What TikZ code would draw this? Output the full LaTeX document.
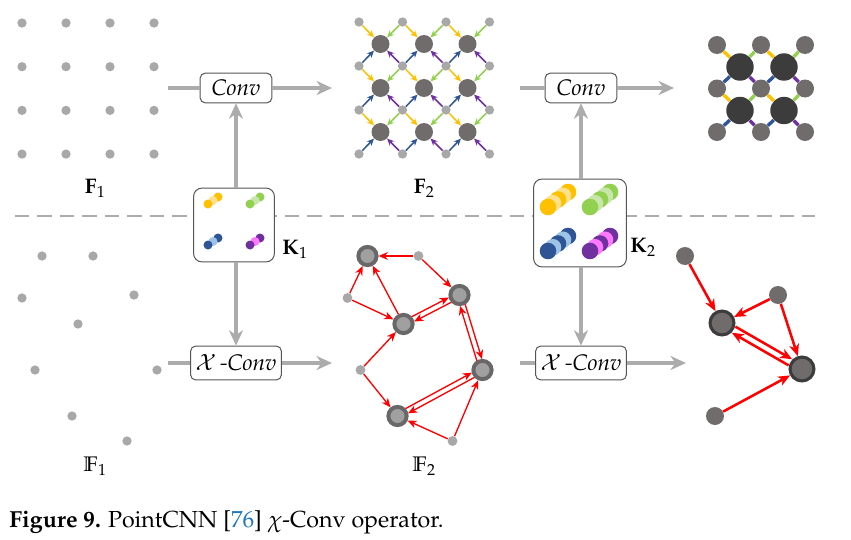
\documentclass[tikz,border=0pt]{standalone}
\usepackage[T1]{fontenc}
\usepackage{mathpazo}
\usepackage{amsmath,amssymb}
\usepackage{xcolor}
\usetikzlibrary{arrows.meta,calc}

\definecolor{dotgray}{RGB}{168,168,168}
\definecolor{midgray}{RGB}{112,108,108}
\definecolor{deepgray}{RGB}{60,60,60}
\definecolor{flowgray}{RGB}{172,172,172}
\definecolor{boxgray}{RGB}{85,85,85}
\definecolor{ringgray}{RGB}{105,103,103}
\definecolor{repgray}{RGB}{160,160,160}
\definecolor{kyellow}{RGB}{255,192,0}
\definecolor{kyellowl}{RGB}{255,224,140}
\definecolor{kgreen}{RGB}{146,208,80}
\definecolor{kgreenl}{RGB}{200,230,170}
\definecolor{kblue}{RGB}{47,85,151}
\definecolor{kbluel}{RGB}{157,195,230}
\definecolor{kpurple}{RGB}{112,48,160}
\definecolor{kpurplel}{RGB}{255,120,255}
\definecolor{citeblue}{RGB}{30,120,190}

\begin{document}
\begin{tikzpicture}[x=0.025cm,y=-0.025cm,font=\fontsize{15}{18}\selectfont]
      \tikzstyle{grid dot}=[circle,fill=dotgray,inner sep=0pt,minimum size=6.6pt]
      \tikzstyle{center dot}=[circle,fill=midgray,inner sep=0pt,minimum size=12.8pt]
      \tikzstyle{out dot}=[circle,fill=midgray,inner sep=0pt,minimum size=12.8pt]
      \tikzstyle{out center}=[circle,fill=deepgray,inner sep=0pt,minimum size=19.5pt]
      \tikzstyle{rep dot}=[circle,fill=repgray,draw=ringgray,line width=2.8pt,inner sep=0pt,minimum size=13pt]
      \tikzstyle{last dot}=[circle,fill=midgray,draw=deepgray,line width=2.2pt,inner sep=0pt,minimum size=17pt]
      \tikzstyle{op box}=[draw=boxgray,fill=white,rounded corners=3.5pt,line width=0.7pt,minimum height=21pt,minimum width=51pt,inner sep=0pt,font=\fontsize{16}{18}\selectfont]
      \tikzstyle{kernel box}=[draw=boxgray,fill=white,rounded corners=6pt,line width=0.7pt,inner sep=0pt]
      \tikzstyle{flow}=[draw=flowgray,line width=2.4pt]
      \tikzstyle{flow arrow}=[flow,-{Stealth[length=11pt,width=10pt,inset=3.5pt]}]
      \tikzstyle{conv arrow}=[line width=1.1pt,-{Stealth[length=5pt,width=4.5pt]}]
      \tikzstyle{conv link}=[line width=2.4pt]
      \tikzstyle{red edge}=[red,line width=0.95pt,-{Stealth[length=6.5pt,width=5.5pt,inset=2pt]}]
      \tikzstyle{red bold}=[red,line width=1.8pt,-{Stealth[length=8.5pt,width=7pt,inset=2.5pt]}]

      \useasboundingbox (0,0) rectangle (851,540);

      % split between grid part and point cloud part
      \draw[flowgray,line width=2pt,dash pattern=on 10pt off 6pt] (15,216) -- (815,216);

      % F1: regular grid
      \foreach \i in {1,...,4}
        \foreach \j in {1,...,4}
          \node[grid dot] (F1-\i-\j) at (22+44*\i-44,23+43.7*\j-43.7) {};
      \node (F1) at (95,188) {$\mathbf{F}_1$};

      % F2: grid with center points
      \foreach \i in {1,...,4}
        \foreach \j in {1,...,4}
          \node[grid dot] (F2-\i-\j) at (359+43.5*\i-43.5,22+44*\j-44) {};
      \foreach \i in {1,...,3}
        \foreach \j in {1,...,3}
          \node[center dot] (C2-\i-\j) at (380.5+43.5*\i-43.5,44+44*\j-44) {};
      \node (F2) at (424,188) {$\mathbf{F}_2$};

      % F3: output of second conv
      \foreach \i in {1,...,3}
        \foreach \j in {1,...,3}
          \node[out dot] (F3-\i-\j) at (717+44*\i-44,45+43.5*\j-43.5) {};
      \foreach \i in {1,2}
        \foreach \j in {1,2}
          \node[out center] (C3-\i-\j) at (740+44*\i-44,67+43.5*\j-43.5) {};

      % Connections: F2 grid to centers
      \foreach \i [evaluate=\i as \k using int(\i+1)] in {1,2,3} {
        \foreach \j [evaluate=\j as \l using int(\j+1)] in {1,2,3} {
          \draw[conv arrow,kyellow] (F2-\i-\j) -- (C2-\i-\j);
          \draw[conv arrow,kgreen] (F2-\k-\j) -- (C2-\i-\j);
          \draw[conv arrow,kblue] (F2-\i-\l) -- (C2-\i-\j);
          \draw[conv arrow,kpurple] (F2-\k-\l) -- (C2-\i-\j);
        }
      }

      % Connections: F3 grid to centers
      \foreach \i [evaluate=\i as \k using int(\i+1)] in {1,2} {
        \foreach \j [evaluate=\j as \l using int(\j+1)] in {1,2} {
          \draw[conv link,kyellow] (F3-\i-\j) -- (C3-\i-\j);
          \draw[conv link,kgreen] (F3-\k-\j) -- (C3-\i-\j);
          \draw[conv link,kblue] (F3-\i-\l) -- (C3-\i-\j);
          \draw[conv link,kpurple] (F3-\k-\l) -- (C3-\i-\j);
        }
      }

      % operators
      \node[op box] (conv1) at (236,88) {\textit{Conv}};
      \node[op box] (conv2) at (581,88) {\textit{Conv}};
      \node[op box,minimum width=64.5pt,minimum height=24pt] (xconv1) at (236,363) {$\mathcal{X}$\,\textit{-Conv}};
      \node[op box,minimum width=64.5pt,minimum height=24pt] (xconv2) at (581,363) {$\mathcal{X}$\,\textit{-Conv}};

      % kernels
      \node[kernel box,minimum width=57.5pt,minimum height=52.5pt] (K1) at (234,225) {};
      \node[kernel box,minimum width=66pt,minimum height=62.5pt] (K2) at (580,223) {};
      \node (K1-label) at (295,249) {$\mathbf{K}_1$};
      \node (K2-label) at (643,247) {$\mathbf{K}_2$};
      \foreach \cx/\cy/\dk/\lt in {208/204/kyellow/kyellowl, 250/204/kgreen/kgreenl,
                                   208/245/kblue/kbluel, 250/245/kpurple/kpurplel} {
        \fill[\dk] (\cx+10,\cy-7) circle (3.2pt);
        \fill[\lt] (\cx+5,\cy-3.5) circle (3.2pt);
        \fill[\dk] (\cx,\cy) circle (3.2pt);
      }
      \foreach \cx/\cy/\dk/\lt in {548/207/kyellow/kyellowl, 590/207/kgreen/kgreenl,
                                   548/251/kblue/kbluel, 590/251/kpurple/kpurplel} {
        \fill[\dk] (\cx+20,\cy-15) circle (5.9pt);
        \fill[\lt] (\cx+15,\cy-11.25) circle (5.9pt);
        \fill[\dk] (\cx+10,\cy-7.5) circle (5.9pt);
        \fill[\lt] (\cx+5,\cy-3.75) circle (5.9pt);
        \fill[\dk] (\cx,\cy) circle (5.9pt);
      }

      % flow arrows
      \coordinate (in1) at (168,88);
      \coordinate (out1) at (332,88);
      \coordinate (in2) at (520,88);
      \coordinate (out2) at (674,88);
      \coordinate (in3) at (168,363);
      \coordinate (out3) at (332,363);
      \coordinate (in4) at (520,363);
      \coordinate (out4) at (686,363);
      \draw[flow] (in1) -- (conv1);
      \draw[flow arrow] (conv1) -- (out1);
      \draw[flow] (in2) -- (conv2);
      \draw[flow arrow] (conv2) -- (out2);
      \draw[flow] (in3) -- (xconv1);
      \draw[flow arrow] (xconv1) -- (out3);
      \draw[flow] (in4) -- (xconv2);
      \draw[flow arrow] (xconv2) -- (out4);
      \draw[flow arrow] (K1.north -| conv1.south) -- (conv1.south);
      \draw[flow arrow] (K1.south -| xconv1.north) -- (xconv1.north);
      \draw[flow arrow] (K2.north -| conv2.south) -- (conv2.south);
      \draw[flow arrow] (K2.south -| xconv2.north) -- (xconv2.north);

      % P1: input point cloud
      \foreach \n/\x/\y in {1/42/256, 2/93/256, 3/22/298, 4/134/295, 5/78/324,
                            6/35/370, 7/157/370, 8/72/416, 9/127/441}
        \node[grid dot] (P1-\n) at (\x,\y) {};
      \node (P1) at (95,466) {$\mathbb{F}_1$};

      % P2: representative points + neighbours
      \foreach \n/\x/\y in {2/93/256, 3/22/298, 6/35/370, 9/127/441}
        \node[grid dot,minimum size=7pt] (P2-\n) at (\x+325.5,\y) {};
      \foreach \n/\x/\y in {1/42/256, 4/134/295, 5/78/324, 7/157/370, 8/72/416}
        \node[rep dot] (P2-\n) at (\x+325.5,\y) {};
      \node (P2) at (424,466) {$\mathbb{F}_2$};
      \foreach \a/\b in {2/1, 2/4, 3/1, 3/5, 5/1, 6/5, 6/8, 9/8, 9/7}
        \draw[red edge] (P2-\a) -- (P2-\b);
      \foreach \a/\b in {5/4, 4/7, 8/7} {
        \draw[red edge,shorten <=7.5pt,shorten >=7.5pt] ($(P2-\a)!1.9pt!90:(P2-\b)$) -- ($(P2-\b)!1.9pt!-90:(P2-\a)$);
        \draw[red edge,shorten <=7.5pt,shorten >=7.5pt] ($(P2-\b)!1.9pt!90:(P2-\a)$) -- ($(P2-\a)!1.9pt!-90:(P2-\b)$);
      }

      % P3: output point cloud
      \foreach \n/\x/\y in {1/685/256, 2/778/295, 5/715/416}
        \node[out dot] (P3-\n) at (\x,\y) {};
      \foreach \n/\x/\y in {3/722/323, 4/802/369}
        \node[last dot] (P3-\n) at (\x,\y) {};
      \foreach \a/\b in {1/3, 2/3, 2/4, 5/4}
        \draw[red bold] (P3-\a) -- (P3-\b);
      \draw[red bold,shorten <=9.5pt,shorten >=9.5pt] ($(P3-3)!2.5pt!90:(P3-4)$) -- ($(P3-4)!2.5pt!-90:(P3-3)$);
      \draw[red bold,shorten <=9.5pt,shorten >=9.5pt] ($(P3-4)!2.5pt!90:(P3-3)$) -- ($(P3-3)!2.5pt!-90:(P3-4)$);

      % caption
      \node[anchor=base west,inner sep=0pt] (caption) at (9,527)
        {\fontsize{16.5}{19}\selectfont\textbf{Figure 9.} PointCNN [\textcolor{citeblue}{76}] $\chi$-Conv operator.};
\end{tikzpicture}
\end{document}
